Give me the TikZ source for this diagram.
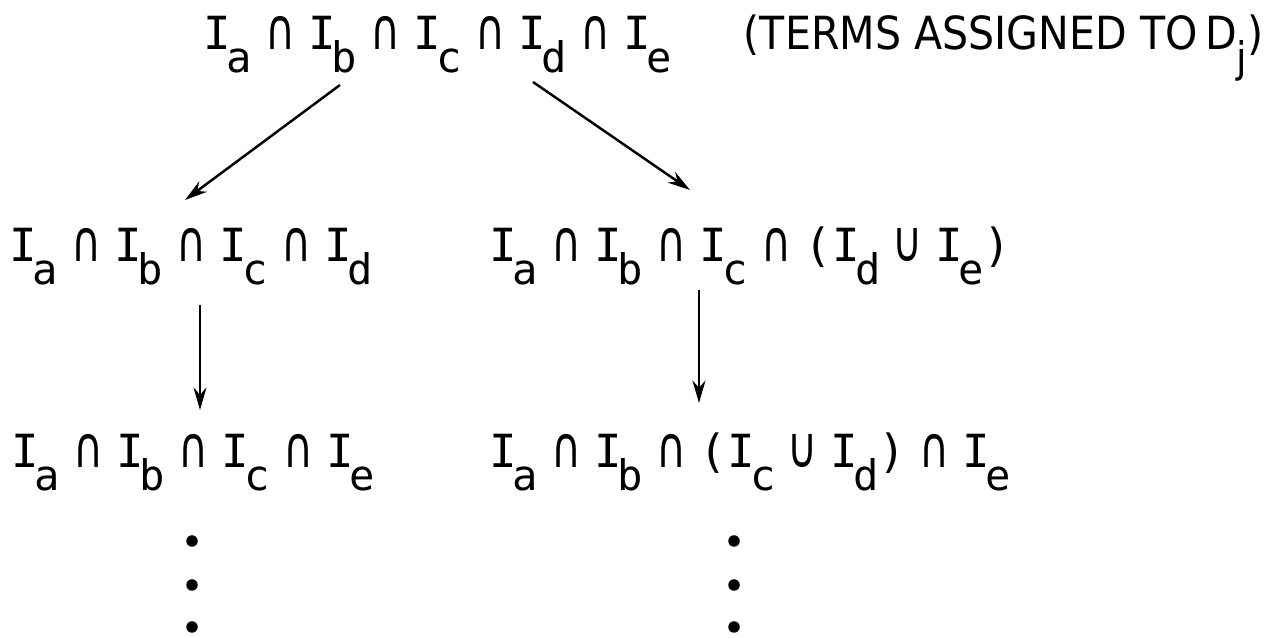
\documentclass[tikz,border=0pt]{standalone}
\usepackage{fontspec}
\setmainfont{DejaVu Sans Mono}
\newfontfamily\symfont{DejaVu Sans}
\newfontfamily\notefont[FakeStretch=0.9]{DejaVu Sans}
\usetikzlibrary{positioning, arrows.meta, calc}
\newcommand\subx[1]{\raisebox{-0.5em}{\fontsize{24}{24}\selectfont #1}}
\newcommand\tset[1]{I\kern-0.1em\subx{#1}}
\newcommand\isec{\hspace{7.6pt}{\symfont\scalebox{0.9}[1.25]{∩}}\hspace{7.5pt}}
\newcommand\unn{\hspace{7pt}{\symfont\scalebox{0.9}[1.25]{∪}}\hspace{7pt}}

\begin{document}
\begin{tikzpicture}[>={Stealth[length=4.5mm, width=2.6mm]},
  expr/.style={anchor=base west, inner sep=2pt, font=\fontsize{26}{30}\selectfont},
  flow/.style={->, line width=1.4pt},
  vdot/.style={circle, fill, inner sep=0pt, minimum size=2.3mm},
]
  \useasboundingbox (0,0) rectangle (25.36,12.76);
  % the five terms and the two ways down
  \node[expr] (top) at (4.0,11.76) {\tset{a}\isec\tset{b}\isec\tset{c}\isec\tset{d}\isec\tset{e}};
  \node[expr, font=\fontsize{26}{30}\notefont] (note) at (14.8,11.76) {(TERMS ASSIGNED TO\,D\subx{j})};
  \node[expr] (midL) at (0.12,7.52) {\tset{a}\isec\tset{b}\isec\tset{c}\isec\tset{d}};
  \node[expr] (midR) at (9.72,7.52) {\tset{a}\isec\tset{b}\isec\tset{c}\isec(\tset{d}\unn\tset{e})};
  \node[expr] (botL) at (0.16,3.40) {\tset{a}\isec\tset{b}\isec\tset{c}\isec\tset{e}};
  \node[expr] (botR) at (9.72,3.40) {\tset{a}\isec\tset{b}\isec(\tset{c}\unn\tset{d})\isec\tset{e}};
  \draw[flow] ($(top.base west)+(2.8,-0.7)$) -- ($(midL.base west)+(3.58,1.24)$);
  \draw[flow] ($(top.base west)+(6.66,-0.64)$) -- ($(midR.base west)+(4.08,1.44)$);
  \draw[flow] ($(midL.base west)+(3.88,-0.86)$) -- ($(botL.base west)+(3.84,1.16)$);
  \draw[flow] ($(midR.base west)+(4.26,-0.56)$) -- ($(botR.base west)+(4.26,1.30)$);
  % dots below
  \foreach \n/\yy in {1/1.94, 2/1.06, 3/0.22} {
    \node[vdot] (dl\n) at (3.84,\yy) {};
    \node[vdot] (dr\n) at (14.68,\yy) {};
  }
\end{tikzpicture}
\end{document}
